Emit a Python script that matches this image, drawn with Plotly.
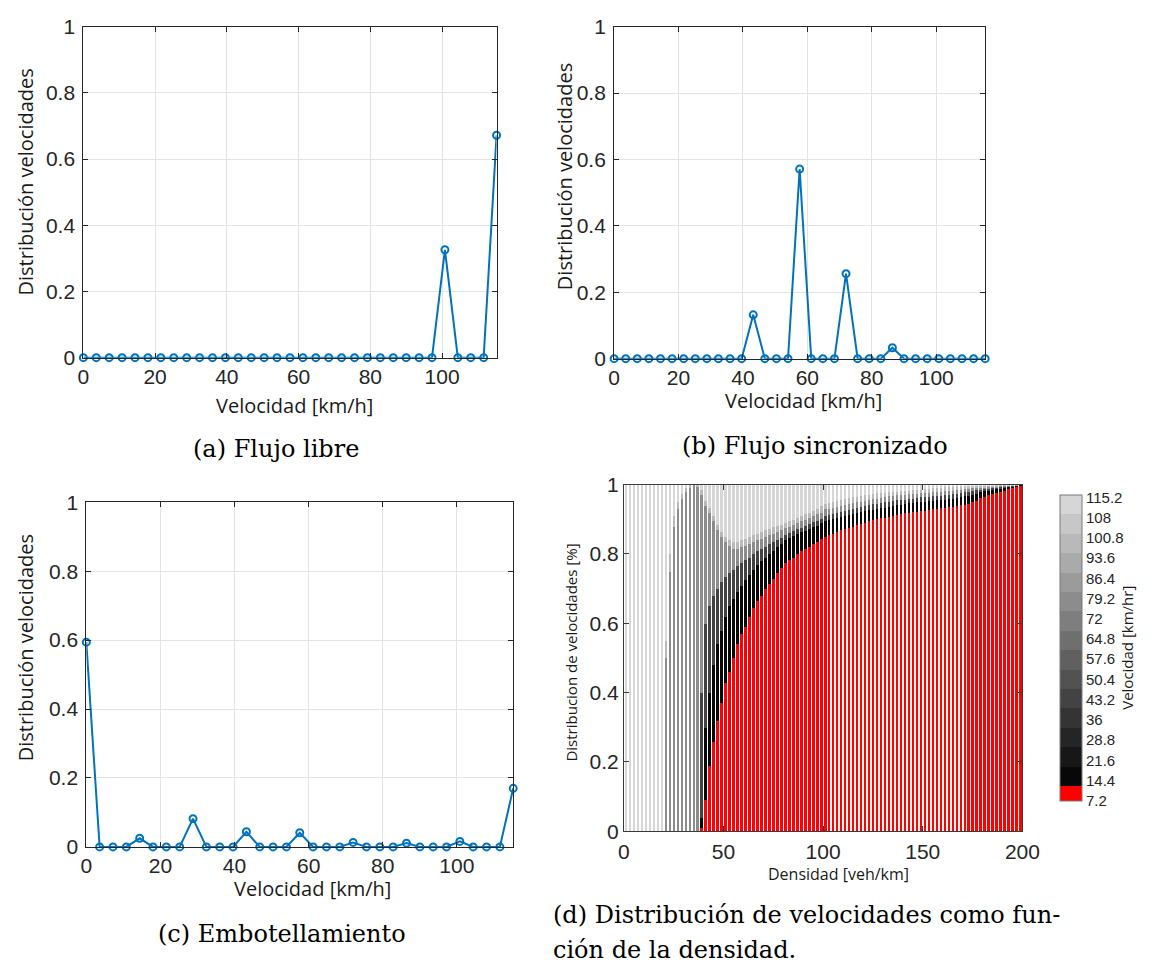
import plotly.graph_objects as go

W, H = 1153, 979

# ---------------- speed distributions (panels a-c) ----------------
velocidad = [0, 3.6, 7.2, 10.8, 14.4, 18, 21.6, 25.2, 28.8, 32.4, 36, 39.6, 43.2,
             46.8, 50.4, 54, 57.6, 61.2, 64.8, 68.4, 72, 75.6, 79.2, 82.8, 86.4,
             90, 93.6, 97.2, 100.8, 104.4, 108, 111.6, 115.2]

flujo_libre = [0, 0, 0, 0, 0, 0, 0, 0, 0, 0, 0, 0, 0, 0, 0, 0, 0,
               0, 0, 0, 0, 0, 0, 0, 0, 0, 0, 0, 0.326, 0, 0, 0, 0.672]

flujo_sincronizado = [0, 0, 0, 0, 0, 0, 0, 0, 0, 0, 0, 0, 0.132, 0, 0, 0, 0.571,
                      0, 0, 0, 0.256, 0, 0, 0, 0.033, 0, 0, 0, 0, 0, 0, 0, 0]

embotellamiento = [0.594, 0, 0, 0, 0.025, 0, 0, 0, 0.082, 0, 0, 0, 0.044, 0, 0, 0, 0.041,
                   0, 0, 0, 0.013, 0, 0, 0, 0.011, 0, 0, 0, 0.016, 0, 0, 0, 0.17]

# ---------------- speed distribution vs density (panel d) ----------------
densidad = list(range(1, 200, 2))

# cumulative tops of each speed band, one value per density bar
tope_rojo = [0, 0, 0, 0, 0, 0, 0, 0, 0, 0,
             0, 0, 0, 0, 0, 0, 0, 0, 0, 0.01,
             0.09, 0.19, 0.26, 0.32, 0.37, 0.43, 0.46, 0.50, 0.54, 0.57,
             0.59, 0.62, 0.645, 0.665, 0.68, 0.70, 0.715, 0.73, 0.747, 0.76,
             0.775, 0.785, 0.79, 0.80, 0.81, 0.815, 0.82, 0.83, 0.835, 0.845,
             0.85, 0.855, 0.86, 0.865, 0.87, 0.873, 0.877, 0.88, 0.884, 0.887,
             0.891, 0.895, 0.898, 0.901, 0.904, 0.906, 0.909, 0.912, 0.914, 0.916,
             0.918, 0.920, 0.922, 0.923, 0.924, 0.926, 0.928, 0.930, 0.931, 0.933,
             0.934, 0.936, 0.937, 0.939, 0.941, 0.943, 0.946, 0.950, 0.955, 0.962,
             0.966, 0.970, 0.974, 0.978, 0.981, 0.984, 0.988, 0.991, 0.995, 0.998]

tope_negro = [0, 0, 0, 0, 0, 0, 0, 0, 0, 0,
              0, 0, 0, 0, 0, 0, 0, 0, 0, 0.04,
              0.30, 0.40, 0.48, 0.54, 0.58, 0.62, 0.65, 0.67, 0.69, 0.71,
              0.725, 0.74, 0.755, 0.77, 0.78, 0.79, 0.80, 0.81, 0.82, 0.83,
              0.84, 0.847, 0.853, 0.858, 0.863, 0.868, 0.873, 0.878, 0.883, 0.89,
              0.895, 0.898, 0.901, 0.904, 0.907, 0.91, 0.913, 0.916, 0.919, 0.922,
              0.925, 0.927, 0.929, 0.931, 0.933, 0.935, 0.937, 0.939, 0.941, 0.943,
              0.945, 0.947, 0.948, 0.95, 0.951, 0.952, 0.954, 0.955, 0.956, 0.957,
              0.958, 0.96, 0.961, 0.963, 0.965, 0.967, 0.969, 0.972, 0.975, 0.979,
              0.982, 0.984, 0.987, 0.989, 0.991, 0.993, 0.995, 0.997, 0.999, 1.0]

tope_oscuro = [0, 0, 0, 0, 0, 0, 0, 0, 0, 0,
               0, 0, 0, 0, 0, 0, 0, 0, 0, 0.40,
               0.60, 0.65, 0.68, 0.70, 0.72, 0.735, 0.745, 0.755, 0.765, 0.775,
               0.785, 0.79, 0.80, 0.81, 0.815, 0.822, 0.83, 0.836, 0.842, 0.848,
               0.855, 0.861, 0.867, 0.872, 0.877, 0.882, 0.887, 0.892, 0.897, 0.902,
               0.91, 0.913, 0.916, 0.919, 0.922, 0.925, 0.928, 0.931, 0.934, 0.937,
               0.94, 0.942, 0.944, 0.946, 0.948, 0.95, 0.952, 0.954, 0.956, 0.957,
               0.958, 0.96, 0.961, 0.962, 0.964, 0.965, 0.966, 0.967, 0.968, 0.969,
               0.97, 0.972, 0.973, 0.975, 0.977, 0.979, 0.981, 0.983, 0.985, 0.987,
               0.99, 0.991, 0.993, 0.994, 0.995, 0.996, 0.997, 0.998, 0.999, 1.0]

tope_gris = [0, 0, 0, 0, 0, 0, 0, 0, 0, 0,
             0.50, 0.75, 0.88, 0.93, 0.96, 0.98, 0.99, 1.0, 0.995, 0.97,
             0.94, 0.92, 0.895, 0.87, 0.85, 0.835, 0.825, 0.815, 0.815, 0.82,
             0.825, 0.83, 0.835, 0.84, 0.845, 0.85, 0.855, 0.86, 0.865, 0.87,
             0.875, 0.88, 0.885, 0.89, 0.895, 0.90, 0.905, 0.91, 0.915, 0.92,
             0.93, 0.932, 0.935, 0.937, 0.94, 0.942, 0.945, 0.947, 0.95, 0.952,
             0.955, 0.957, 0.959, 0.961, 0.963, 0.965, 0.967, 0.969, 0.97, 0.971,
             0.972, 0.973, 0.974, 0.975, 0.976, 0.977, 0.978, 0.979, 0.98, 0.981,
             0.982, 0.983, 0.984, 0.985, 0.986, 0.988, 0.989, 0.99, 0.991, 0.992,
             0.994, 0.995, 0.996, 0.997, 0.998, 0.998, 0.999, 0.999, 1.0, 1.0]

tope_claro = [0, 0, 0, 0, 0, 0, 0, 0, 0, 0,
              0.55, 0.80, 0.91, 0.95, 0.975, 0.99, 1.0, 1.0, 1.0, 0.985,
              0.955, 0.935, 0.91, 0.885, 0.865, 0.85, 0.84, 0.835, 0.835, 0.84,
              0.845, 0.85, 0.855, 0.86, 0.865, 0.87, 0.874, 0.878, 0.882, 0.886,
              0.89, 0.895, 0.90, 0.905, 0.91, 0.915, 0.92, 0.925, 0.93, 0.94,
              0.945, 0.948, 0.951, 0.954, 0.957, 0.96, 0.962, 0.964, 0.966, 0.968,
              0.97, 0.972, 0.974, 0.976, 0.977, 0.978, 0.979, 0.98, 0.981, 0.982,
              0.983, 0.984, 0.985, 0.986, 0.987, 0.988, 0.989, 0.99, 0.991, 0.992,
              0.993, 0.994, 0.995, 0.995, 0.996, 0.996, 0.997, 0.997, 0.998, 0.998,
              0.999, 0.999, 0.999, 1.0, 1.0, 1.0, 1.0, 1.0, 1.0, 1.0]

# speed class represented by each band
clase_banda = [7.2, 14.4, 43.2, 79.2, 100.8, 115.2]
ticks_cbar = [7.2, 14.4, 21.6, 28.8, 36, 43.2, 50.4, 57.6, 64.8, 72, 79.2,
              86.4, 93.6, 100.8, 108, 115.2]

# ---------------- helpers ----------------
def px(x):
    return x / W

def py(y):
    return 1 - y / H

CMIN, CMAX = 7.2, 116.2
RED_FRAC = 0.0486


def gris(v):
    lvl = int(round(8 + (v - 14.4) / (115.2 - 14.4) * (214 - 8)))
    lvl = max(0, min(255, lvl))
    return f"rgb({lvl},{lvl},{lvl})"


def color_clase(v):
    return "rgb(255,0,0)" if v < 10 else gris(v)


# stepped grey colormap with red lowest band
colorscale = [[0, "rgb(255,0,0)"], [RED_FRAC, "rgb(255,0,0)"]]
nb = 15
for i in range(nb):
    a = RED_FRAC + (1 - RED_FRAC) * i / nb
    b = RED_FRAC + (1 - RED_FRAC) * (i + 1) / nb
    c = gris(14.4 + (115.2 - 14.4) * i / (nb - 1))
    colorscale.append([a, c])
    colorscale.append([b, c])

fig = go.Figure()

BLUE = "#0072BD"
series = [(flujo_libre, "x", "y"), (flujo_sincronizado, "x2", "y2"),
          (embotellamiento, "x3", "y3")]
for vals, xa, ya in series:
    fig.add_trace(go.Scatter(
        x=velocidad, y=vals, mode="lines+markers", xaxis=xa, yaxis=ya,
        line=dict(color=BLUE, width=2),
        marker=dict(symbol="circle-open", size=7, color=BLUE, line=dict(width=2, color=BLUE)),
        cliponaxis=False, showlegend=False, hoverinfo="skip"))

# stacked bands for panel d
bordes = [[0] * len(densidad), tope_rojo, tope_negro, tope_oscuro, tope_gris, tope_claro,
          [1] * len(densidad)]
for j, v in enumerate(clase_banda):
    lo, hi = bordes[j], bordes[j + 1]
    seg = [max(0.0, h - l) for l, h in zip(lo, hi)]
    fig.add_trace(go.Bar(
        x=densidad, y=seg, xaxis="x4", yaxis="y4", width=1.25,
        marker=dict(color=color_clase(v), line=dict(width=0)),
        showlegend=False, hoverinfo="skip"))

# colorbar carrier
fig.add_trace(go.Scatter(
    x=[None], y=[None], mode="markers", xaxis="x4", yaxis="y4", showlegend=False,
    marker=dict(color=[CMIN], colorscale=colorscale, cmin=CMIN, cmax=CMAX, showscale=True,
                colorbar=dict(
                    x=px(1066), xanchor="left", xref="paper",
                    y=py((484 + 818) / 2), yanchor="middle", yref="paper",
                    len=(818 - 484) / H, lenmode="fraction",
                    thickness=22, thicknessmode="pixels",
                    outlinecolor="#7a7a7a", outlinewidth=1,
                    tickmode="array", tickvals=ticks_cbar,
                    ticktext=[("%g" % t) for t in ticks_cbar],
                    ticks="", ticklabelposition="outside",
                    tickfont=dict(family="Liberation Sans", size=15, color="#262626"),
                    title=dict(text="Velocidad [km/hr]", side="right",
                               font=dict(family="Open Sans", size=15, color="#1a1a1a")),
                ))))

tick_font = dict(family="Liberation Sans", size=21, color="#262626")
axis_common = dict(showline=True, linecolor="#262626", linewidth=1, mirror="ticks",
                   ticks="inside", ticklen=5, tickcolor="#262626", zeroline=False,
                   tickfont=tick_font, showgrid=True, gridcolor="#e3e3e3", gridwidth=1)

yticks = [0, 0.2, 0.4, 0.6, 0.8, 1]
ytext = ["0", "0.2", "0.4", "0.6", "0.8", "1"]
xticks = [0, 20, 40, 60, 80, 100]

doms = {
    "": ([79, 501], [15, 354]),
    "2": ([621, 1000], [15, 355]),
    "3": ([82, 518], [502, 855]),
}
layout = {}
for k, (dx, dy) in doms.items():
    layout["xaxis" + k] = dict(axis_common, domain=[px(dx[0]), px(dx[1])], range=[0, 115.2],
                               tickvals=xticks, anchor="y" + k)
    layout["yaxis" + k] = dict(axis_common, domain=[py(dy[1]), py(dy[0])], range=[0, 1],
                               tickvals=yticks, ticktext=ytext, anchor="x" + k,
                               ticklabelstandoff=3)

d_common = dict(showline=True, linecolor="#3a3a3a", linewidth=1, mirror="ticks",
                ticks="inside", ticklen=5, tickcolor="#3a3a3a", zeroline=False,
                showgrid=False, tickfont=dict(family="Liberation Sans", size=21, color="#262626"))
layout["xaxis4"] = dict(d_common, domain=[px(631), px(1038)], range=[0, 200],
                        tickvals=[0, 50, 100, 150, 200], anchor="y4", ticklabelstandoff=2)
layout["yaxis4"] = dict(d_common, domain=[py(839), py(484)], range=[0, 1],
                        tickvals=yticks, ticktext=ytext, anchor="x4")

title_font = dict(family="Open Sans", size=20, color="#1a1a1a")
cap_font = dict(family="DejaVu Serif", size=24, color="#000000")


def note(text, x, y, font, angle=0, xanchor="center"):
    return dict(text=text, x=px(x), y=py(y), xref="paper", yref="paper", showarrow=False,
                font=font, textangle=angle, xanchor=xanchor, yanchor="middle")


annotations = [
    note("Distribución velocidades", 20, 174, title_font, -90),
    note("Velocidad [km/h]", 295, 403, title_font),
    note("Distribución velocidades", 570, 169, title_font, -90),
    note("Velocidad [km/h]", 814, 398, title_font),
    note("Distribución velocidades", 20, 651, title_font, -90),
    note("Velocidad [km/h]", 313, 898, title_font),
    note("Distribucion de velocidades [%]", 577, 656,
         dict(family="Open Sans", size=15, color="#1a1a1a"), -90),
    note("Densidad [veh/km]", 850, 883, dict(family="Open Sans", size=16, color="#1a1a1a")),
    note("(a) Flujo libre", 276, 448, cap_font),
    note("(b) Flujo sincronizado", 826, 444, cap_font),
    note("(c) Embotellamiento", 282, 944, cap_font),
    note("(d) Distribución de velocidades como fun-", 557, 925, cap_font, xanchor="left"),
    note("ción de la densidad.", 557, 961, cap_font, xanchor="left"),
]

fig.update_layout(
    width=W, height=H, margin=dict(l=0, r=0, t=0, b=0),
    paper_bgcolor="white", plot_bgcolor="white",
    barmode="stack", bargap=0, annotations=annotations, **layout)

fig.write_html("out.html")
